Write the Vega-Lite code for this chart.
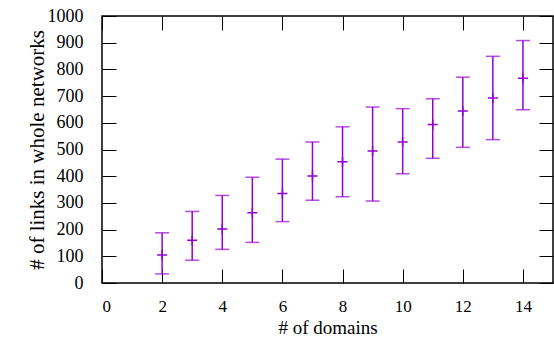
{
  "$schema": "https://vega.github.io/schema/vega-lite/v6.json",
  "width": 451,
  "height": 267,
  "autosize": {"type": "none"},
  "padding": {"left": 102, "top": 16, "right": 1, "bottom": 57},
  "background": "white",
  "config": {
    "view": {"stroke": "#000", "strokeWidth": 1.5},
    "font": "Liberation Serif",
    "axis": {
      "grid": false,
      "domain": false,
      "tickColor": "#000",
      "tickWidth": 1,
      "tickSize": -14,
      "labelFont": "Liberation Serif",
      "labelFontSize": 18,
      "labelColor": "#000",
      "titleFont": "Liberation Serif",
      "titleFontSize": 21,
      "titleFontWeight": "normal",
      "titleColor": "#000"
    }
  },
  "data": {
    "values": [
      {"domains": 2, "links": 105, "lo": 34, "hi": 188},
      {"domains": 3, "links": 160, "lo": 85, "hi": 268},
      {"domains": 4, "links": 202, "lo": 126, "hi": 328},
      {"domains": 5, "links": 263, "lo": 152, "hi": 396},
      {"domains": 6, "links": 335, "lo": 230, "hi": 464},
      {"domains": 7, "links": 401, "lo": 310, "hi": 528},
      {"domains": 8, "links": 454, "lo": 323, "hi": 585},
      {"domains": 9, "links": 494, "lo": 307, "hi": 659},
      {"domains": 10, "links": 528, "lo": 409, "hi": 653},
      {"domains": 11, "links": 594, "lo": 467, "hi": 690},
      {"domains": 12, "links": 644, "lo": 508, "hi": 771},
      {"domains": 13, "links": 693, "lo": 537, "hi": 849},
      {"domains": 14, "links": 767, "lo": 649, "hi": 908}
    ]
  },
  "resolve": {"axis": {"x": "independent", "y": "independent"}},
  "layer": [
    {
      "mark": {"type": "rule", "color": "#9400d3", "strokeWidth": 1.5},
      "encoding": {
        "x": {
          "field": "domains", "type": "quantitative",
          "scale": {"domain": [0, 15], "nice": false, "zero": false},
          "axis": {
            "orient": "bottom",
            "values": [0, 2, 4, 6, 8, 10, 12, 14],
            "format": "d",
            "labelFontSize": 17,
            "labelPadding": 29,
            "title": "# of domains",
            "titleFontSize": 19,
            "titleBaseline": "alphabetic",
            "titleY": 50
          }
        },
        "y": {
          "field": "lo", "type": "quantitative",
          "scale": {"domain": [0, 1000], "nice": false},
          "axis": {
            "orient": "left",
            "values": [0, 100, 200, 300, 400, 500, 600, 700, 800, 900, 1000],
            "format": "d",
            "labelPadding": 33,
            "title": "# of links in whole networks",
            "titleBaseline": "alphabetic",
            "titleX": -59,
            "titleY": 133.5,
            "titleAngle": -90
          }
        },
        "y2": {"field": "hi"}
      }
    },
    {
      "mark": {"type": "tick", "orient": "horizontal", "color": "#9400d3", "size": 14, "thickness": 1.5},
      "encoding": {
        "x": {
          "field": "domains", "type": "quantitative",
          "axis": {"orient": "top", "values": [0, 2, 4, 6, 8, 10, 12, 14], "labels": false, "title": null}
        },
        "y": {
          "field": "lo", "type": "quantitative",
          "axis": {"orient": "right", "values": [0, 100, 200, 300, 400, 500, 600, 700, 800, 900, 1000], "labels": false, "title": null}
        }
      }
    },
    {
      "mark": {"type": "tick", "orient": "horizontal", "color": "#9400d3", "size": 14, "thickness": 1.5},
      "encoding": {
        "x": {"field": "domains", "type": "quantitative", "axis": null},
        "y": {"field": "hi", "type": "quantitative", "axis": null}
      }
    },
    {
      "mark": {"type": "point", "shape": "M-1,0H1M0,-1V1", "size": 100, "filled": false, "color": "#9400d3", "strokeWidth": 1.5, "opacity": 1},
      "encoding": {
        "x": {"field": "domains", "type": "quantitative", "axis": null},
        "y": {"field": "links", "type": "quantitative", "axis": null}
      }
    }
  ]
}
